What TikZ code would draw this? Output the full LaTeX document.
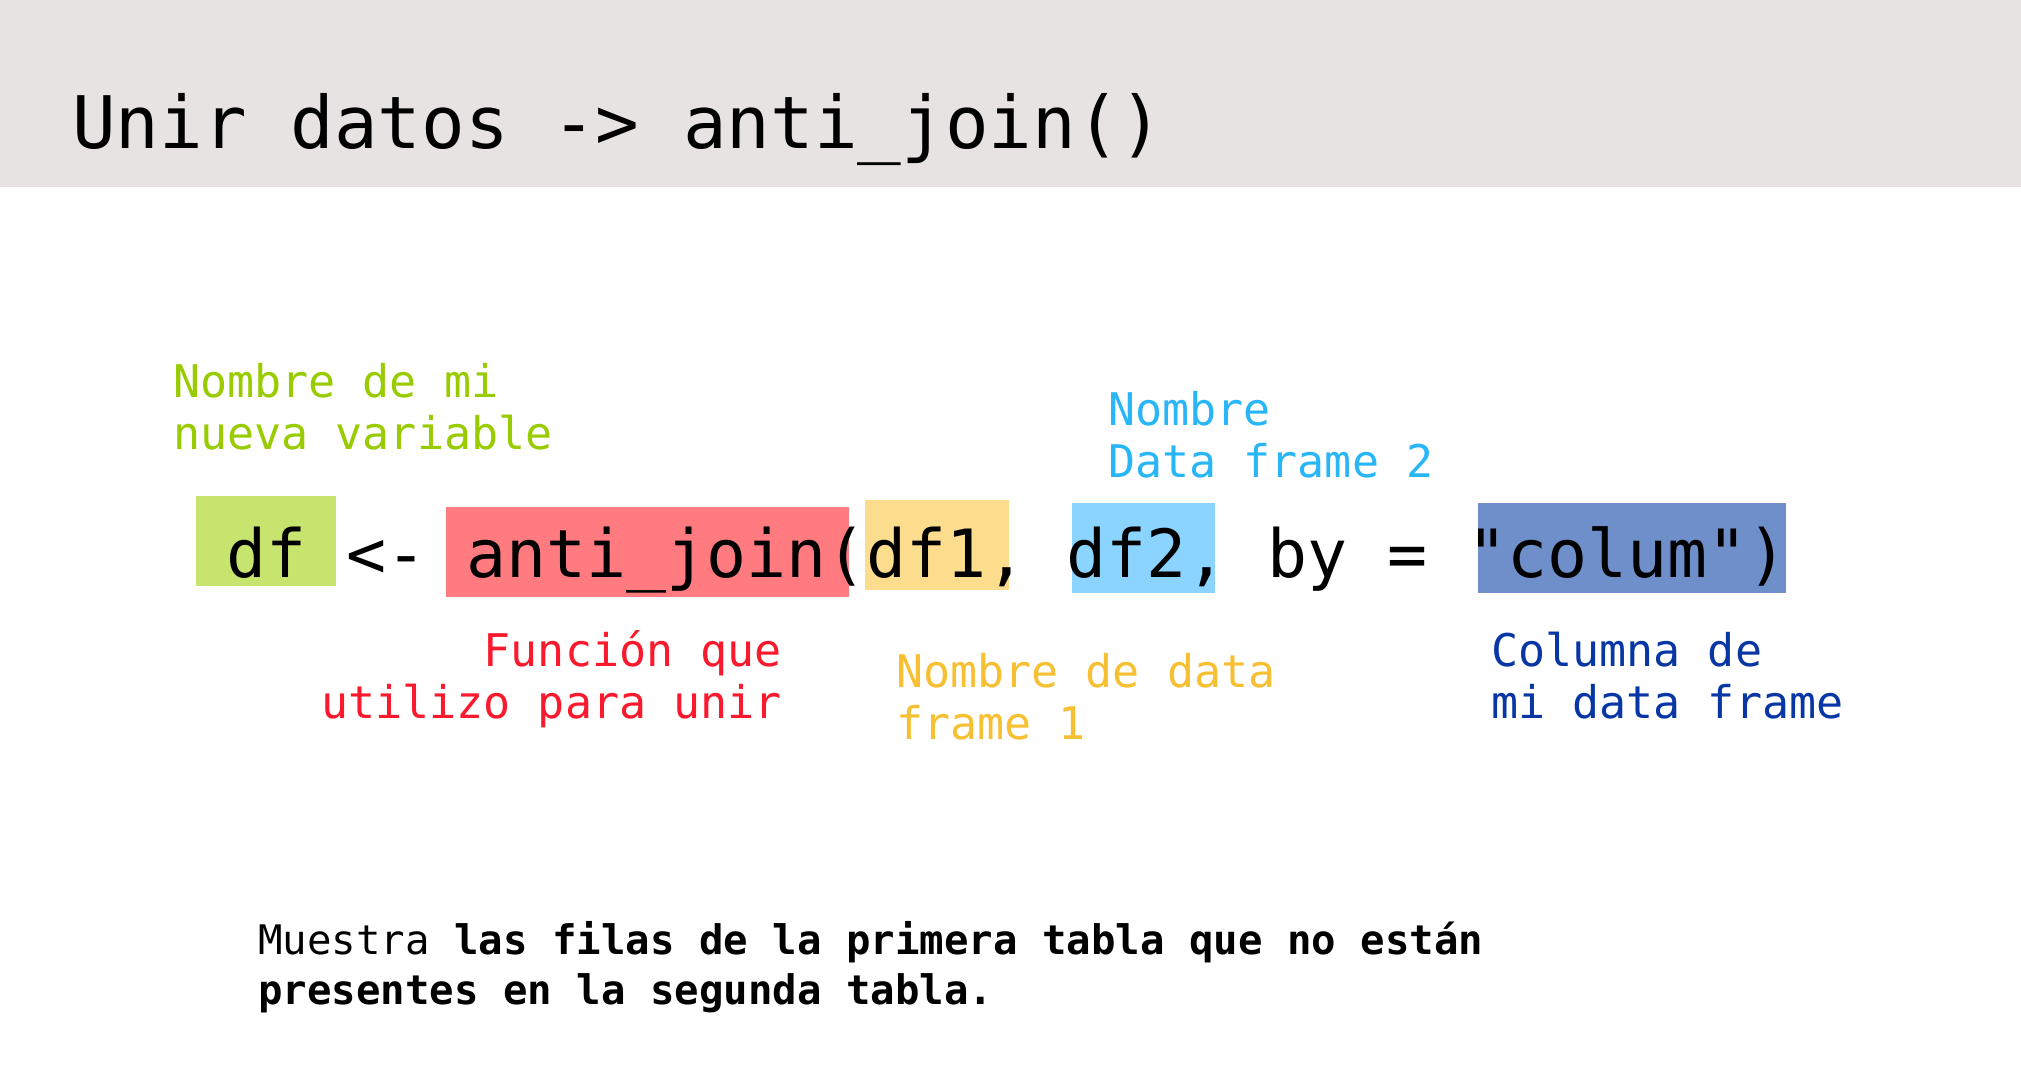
\documentclass[tikz,border=0pt]{standalone}
\usepackage{fontspec}
\newfontfamily\codefont{DejaVu Sans Mono}
\definecolor{hdrbg}{RGB}{232,227,227}
\definecolor{bgreen}{RGB}{199,228,110}
\definecolor{bred}{RGB}{255,123,128}
\definecolor{byellow}{RGB}{252,221,142}
\definecolor{blblue}{RGB}{138,212,255}
\definecolor{bdblue}{RGB}{110,143,201}
\definecolor{tgreen}{RGB}{153,204,0}
\definecolor{tred}{RGB}{250,25,45}
\definecolor{tyellow}{RGB}{247,192,50}
\definecolor{tlblue}{RGB}{41,182,246}
\definecolor{tdblue}{RGB}{8,55,165}
\tikzset{
  hl/.style={draw=none, inner sep=0pt, anchor=north west},
  lbl/.style={inner sep=0pt, anchor=base west, align=left, font=\codefont\fontsize{45}{52}\selectfont},
}
\begin{document}
\begin{tikzpicture}[x=1pt,y=-1pt]
\useasboundingbox (0,0) rectangle (2021,1065);
\fill[white] (0,0) rectangle (2021,1065);
\node[hl, fill=hdrbg, minimum width=2021pt, minimum height=187pt] (header) at (0,0) {};
\node[inner sep=0pt, anchor=base west, font=\codefont\fontsize{72.5}{90}\selectfont] (title) at (72,148) {Unir datos -> anti\_join()};
% highlight boxes
\node[hl, fill=bgreen, minimum width=140pt, minimum height=90pt] (bdf) at (196,496) {};
\node[hl, fill=bred, minimum width=403pt, minimum height=90pt] (bfun) at (446,507) {};
\node[hl, fill=byellow, minimum width=144pt, minimum height=90pt] (bdf1) at (865,500) {};
\node[hl, fill=blblue, minimum width=143pt, minimum height=90pt] (bdf2) at (1072,503) {};
\node[hl, fill=bdblue, minimum width=308pt, minimum height=90pt] (bcol) at (1478,503) {};
% code line
\node[inner sep=0pt, anchor=base west, font=\codefont\fontsize{66.5}{80}\selectfont] (code) at (226,577) {df <- anti\_join(df1, df2, by = "colum")};
% labels (anchor = baseline of last line)
\node[lbl, text=tgreen] (lvar) at (173,449) {Nombre de mi\\nueva variable};
\node[lbl, text=tlblue] (ldf2) at (1108,477) {Nombre\\Data frame 2};
\node[lbl, text=tred, anchor=base east, align=right] (lfun) at (782,718) {Función que\\utilizo para unir};
\node[lbl, text=tyellow] (ldf1) at (896,739) {Nombre de data\\frame 1};
\node[lbl, text=tdblue] (lcol) at (1491,718) {Columna de\\mi data frame};
% bottom note
\node[inner sep=0pt, anchor=base west, align=left, font=\codefont\fontsize{40.7}{50}\selectfont] (note) at (258,1004) {Muestra \textbf{las filas de la primera tabla que no están}\\\textbf{presentes en la segunda tabla.}};
\end{tikzpicture}
\end{document}
